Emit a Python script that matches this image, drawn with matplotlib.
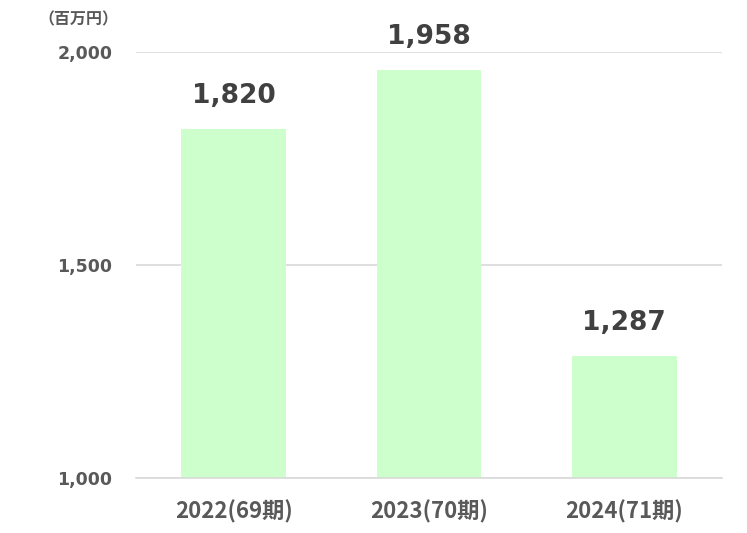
import matplotlib
matplotlib.use("Agg")
import matplotlib.pyplot as plt

# data (百万円)
years = ["2022(69期)", "2023(70期)", "2024(71期)"]
sales = [1820, 1958, 1287]
y_ticks = [1000, 1500, 2000]

plt.rcParams['font.family'] = ['DejaVu Sans', 'Noto Sans CJK JP']

fig = plt.figure(figsize=(7.47, 5.33), dpi=100)
ax = fig.add_axes([0.182, 0.1032, 0.7845, 0.7992])

x = list(range(len(years)))
ax.bar(x, sales, width=0.535, color="#CCFFCC", zorder=2)

for xi, v in zip(x, sales):
    ax.annotate(f"{v:,}", (xi, v), xytext=(0, 14), textcoords="offset points",
                ha="center", va="bottom", fontsize=19, fontweight="bold",
                color="#404040", annotation_clip=False)

ax.set_xlim(-0.5, 2.5)
ax.set_ylim(1000, 2000)
ax.set_yticks(y_ticks)
ax.set_yticklabels([f"{t:,}" for t in y_ticks])
ax.set_xticks(x)
ax.set_xticklabels(years, family=['Noto Sans CJK JP'])

ax.grid(axis="y", color="#D9D9D9", linewidth=1.2, zorder=0)
for s in ["top", "right", "left"]:
    ax.spines[s].set_visible(False)
ax.spines["bottom"].set_color("#D9D9D9")
ax.spines["bottom"].set_linewidth(1.2)

ax.tick_params(axis="y", length=0, pad=17, labelsize=12.5, labelcolor="#595959")
ax.tick_params(axis="x", length=0, pad=16, labelsize=16, labelcolor="#595959")
for lbl in ax.get_yticklabels():
    lbl.set_fontweight("bold")
for lbl in ax.get_xticklabels():
    lbl.set_fontweight("bold")

fig.text(0.158, 0.963, "（百万円）", ha="right", va="center", fontsize=11.5,
         fontweight="bold", color="#595959", family=['Noto Sans CJK JP'])

fig.savefig("out.png", dpi=100)
